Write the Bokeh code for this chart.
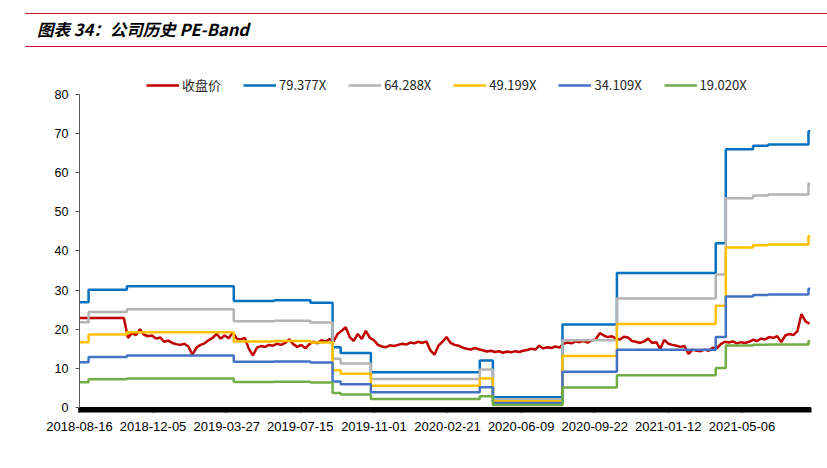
from bokeh.plotting import figure
from bokeh.models import Range1d, FixedTicker, Legend, LegendItem, Div
from bokeh.layouts import column
from bokeh.embed import file_html
from bokeh.resources import INLINE

# ---------------- data ----------------
n_days = 726
tick_labels = ["2018-08-16", "2018-12-05", "2019-03-27", "2019-07-15", "2019-11-01",
               "2020-02-21", "2020-06-09", "2020-09-22", "2021-01-12", "2021-05-06"]
label_step = 73

close_step = 4
close = [22.9] * 12 + [
    17.8, 19.0, 18.5, 20.0, 18.6, 18.2, 18.4, 17.6, 17.9, 16.8,
    17.1, 16.5, 16.2, 16.0, 16.3, 15.6, 13.5, 15.3, 16.0, 16.4,
    17.2, 17.8, 18.8, 17.6, 18.4, 17.7, 19.2, 17.6, 17.4, 17.8,
    15.0, 13.3, 15.3, 15.7, 15.5, 16.0, 15.8, 16.3, 16.0, 16.5,
    17.4, 16.2, 15.5, 16.0, 15.1, 16.2, 16.8, 16.4, 17.2, 16.8, 17.5,
    16.9, 18.8, 19.6, 20.5, 18.0, 17.0, 18.8, 17.5, 19.6, 17.8,
    17.2, 16.0, 15.6, 15.4, 15.9, 15.7, 16.0, 16.3, 16.1, 16.6,
    16.4, 16.8, 16.5, 16.9, 14.6, 13.5, 15.8, 16.8, 18.0, 16.5,
    16.0, 15.8, 15.3, 15.0, 14.8, 15.2, 14.9, 14.6, 14.3, 14.5,
    14.2, 14.4, 14.0, 14.3, 14.1, 14.4, 14.2, 14.5, 14.7, 15.0,
    14.8, 15.8, 15.1, 15.4, 15.2, 15.6, 15.3,
    16.3, 16.6, 16.4, 16.9, 16.7, 17.0, 16.6, 17.2, 17.4, 19.0,
    18.4, 18.0, 18.2, 17.6, 17.4, 18.1, 17.9, 17.0, 16.8, 16.5,
    16.9, 17.6, 16.5, 16.7, 15.0, 17.3, 16.3, 16.0, 15.8, 15.5,
    15.7, 13.7, 14.8, 14.5, 14.4, 14.8, 14.5, 15.3, 15.1, 16.2,
    16.8, 16.6, 16.9, 16.4, 16.7, 16.5, 16.8, 17.3, 17.0, 17.6,
    17.4, 18.0, 17.8, 18.2, 16.7, 18.4, 18.8, 18.5, 19.5, 23.9,
    22.0, 21.4,
]

# trailing EPS steps (start day index, value)
eps_start = [0, 9, 47, 153, 193, 229, 251, 259, 289, 397, 410, 479, 533, 631, 641, 668, 683, 723]
eps = [0.3389, 0.3792, 0.3905, 0.3427, 0.3452, 0.3376, 0.1940, 0.1751, 0.1134, 0.1512,
       0.0328, 0.2671, 0.4334, 0.5291, 0.8315, 0.8428, 0.8466, 0.8894]

multiples = [79.377, 64.288, 49.199, 34.109, 19.020]
band_names = ["79.377X", "64.288X", "49.199X", "34.109X", "19.020X"]
band_colors = ["#0070C0", "#B4B4B4", "#FFC000", "#4472C4", "#70AD47"]
close_name = "收盘价"
close_color = "#C00000"

title_text = "图表 34：公司历史 PE-Band"

y_max = 80
y_top = 86.13   # extra room inside the frame for the legend row

# ---------------- header ----------------
header = Div(
    text=('<div style="margin-left:25px;margin-top:13px;width:802px;height:34px;'
          'box-sizing:border-box;border-top:1.6px solid rgb(200,16,46);'
          'border-bottom:1.6px solid rgb(200,16,46);padding-left:12px;'
          "font-family:'Noto Sans CJK SC';font-weight:bold;font-style:italic;"
          'font-size:16.5px;line-height:31px;color:#000000;white-space:nowrap">'
          + title_text + '</div>'),
    width=827, height=52, margin=(0, 0, 0, 0))

# ---------------- figure ----------------
p = figure(width=827, height=416, output_backend="svg", toolbar_location=None,
           x_range=Range1d(0, n_days - 1), y_range=Range1d(0, y_top),
           min_border_left=79, min_border_right=17, min_border_top=18, min_border_bottom=61)
p.grid.visible = False
p.outline_line_color = None

items = []
x_close = [i * close_step for i in range(len(close))]
r = p.line(x_close, close, line_color=close_color, line_width=2.5)
items.append(LegendItem(label=close_name, renderers=[r]))

xs = eps_start + [n_days - 1]
for m, name, col in zip(multiples, band_names, band_colors):
    ys = [m * e for e in eps] + [m * eps[-1]]
    rr = p.step(xs, ys, mode="after", line_color=col, line_width=2.5)
    items.append(LegendItem(label=name, renderers=[rr]))

legend = Legend(items=items, orientation="horizontal", location=(67, 313),
                label_text_font="Noto Sans CJK SC", label_text_font_size="13px",
                label_text_color="#262626", glyph_width=33, glyph_height=16,
                label_height=16, label_standoff=3, spacing=22, padding=0, margin=0,
                border_line_color=None, background_fill_alpha=0)
p.add_layout(legend, "center")

# y axis
yax = p.yaxis[0]
yax.bounds = (0, y_max)
yax.ticker = FixedTicker(ticks=list(range(0, y_max + 1, 10)))
yax.axis_line_color = "#595959"
yax.major_tick_line_color = "#595959"
yax.major_tick_out = 4
yax.major_tick_in = 0
yax.minor_tick_line_color = None
yax.major_label_text_font = "Liberation Sans"
yax.major_label_text_font_size = "12.5px"
yax.major_label_text_color = "#000000"
yax.major_label_standoff = 7

# x axis
xax = p.xaxis[0]
major = [i * label_step for i in range(len(tick_labels))]
xax.ticker = FixedTicker(ticks=major, minor_ticks=list(range(n_days)))
xax.major_label_overrides = {t: lab for t, lab in zip(major, tick_labels)}
xax.axis_line_color = "black"
xax.major_tick_out = 5
xax.major_tick_in = 0
xax.minor_tick_out = 5
xax.minor_tick_in = 0
xax.major_tick_line_color = "black"
xax.minor_tick_line_color = "black"
xax.major_tick_line_width = 2
xax.minor_tick_line_width = 2
xax.major_label_text_font = "Liberation Sans"
xax.major_label_text_font_size = "13px"
xax.major_label_text_color = "#000000"
xax.major_label_standoff = 9

layout = column(header, p, spacing=0)
open("out.html", "w").write(file_html(layout, INLINE))
